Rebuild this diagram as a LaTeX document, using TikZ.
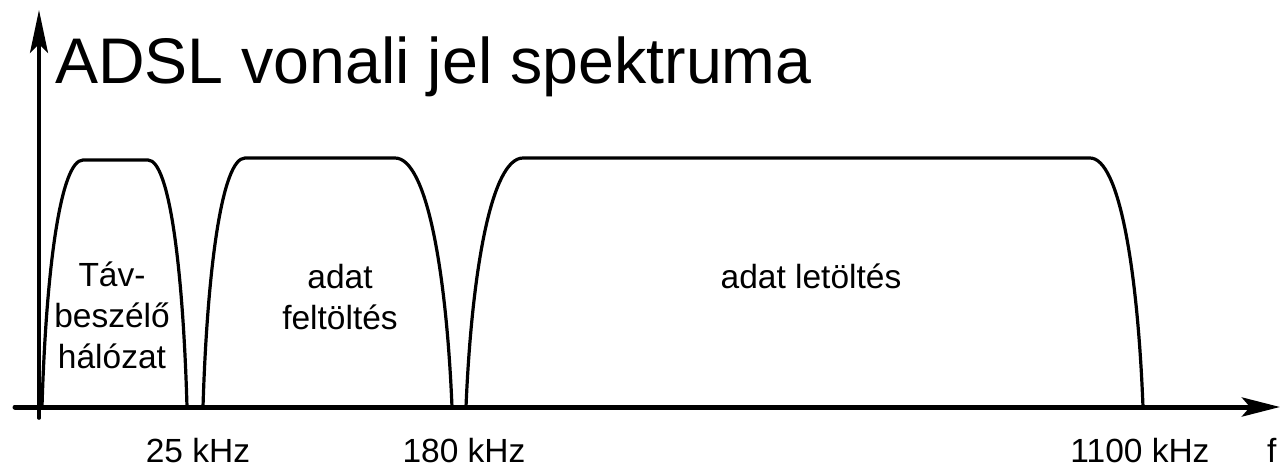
\documentclass[tikz,border=0pt]{standalone}
\usepackage{fontspec}
\setmainfont{Liberation Sans}
\usetikzlibrary{arrows.meta}
\begin{document}
\begin{tikzpicture}[x=1pt,y=-1pt,
  band/.style={line width=3.2pt, line join=round, line cap=round},
  lbl/.style={font=\fontsize{33.5}{41}\selectfont, inner sep=0pt, align=center, anchor=base},
  ttl/.style={font=\fontsize{64.5}{70}\selectfont, inner sep=0pt, anchor=base west}]
\useasboundingbox (0,0) rectangle (1280,467);
% axes
\coordinate (ybot) at (39,418);
\coordinate (ytop) at (39,10);
\coordinate (xleft) at (15,407);
\coordinate (xright) at (1280,407);
\draw[line width=5pt, line cap=round, -{Stealth[length=38pt,width=19pt,inset=8pt]}] (xleft) -- (xright);
\draw[line width=3.6pt, line cap=round, -{Stealth[length=43pt,width=18pt,inset=9pt]}] (ybot) -- (ytop);
% bands
\draw[band] (42,407) .. controls (46.1,270) and (60.5,160) .. (83,160)
  -- (148,160) .. controls (169.5,160) and (183.1,270) .. (187,407);
\draw[band] (203,407) .. controls (207.2,270) and (221.9,158) .. (245,158)
  -- (395,158) .. controls (426.4,158) and (446.3,270) .. (452,407);
\draw[band] (466,407) .. controls (471.7,270) and (491.7,158) .. (523,158)
  -- (1090,158) .. controls (1119.2,158) and (1137.7,270) .. (1143,407);
% texts
\node[ttl] (title) at (55,83) {ADSL vonali jel spektruma};
\node[lbl] (tav) at (112,368) {Táv-\\beszélő\\hálózat};
\node[lbl] (fel) at (340,329) {adat\\feltöltés};
\node[lbl] (le) at (811,288) {adat letöltés};
\node[lbl] (f25) at (198,462) {25 kHz};
\node[lbl] (f180) at (464,462) {180 kHz};
\node[lbl] (f1100) at (1140,462) {1100 kHz};
\node[lbl, anchor=base west] (fax) at (1267,462) {f};
\end{tikzpicture}
\end{document}
